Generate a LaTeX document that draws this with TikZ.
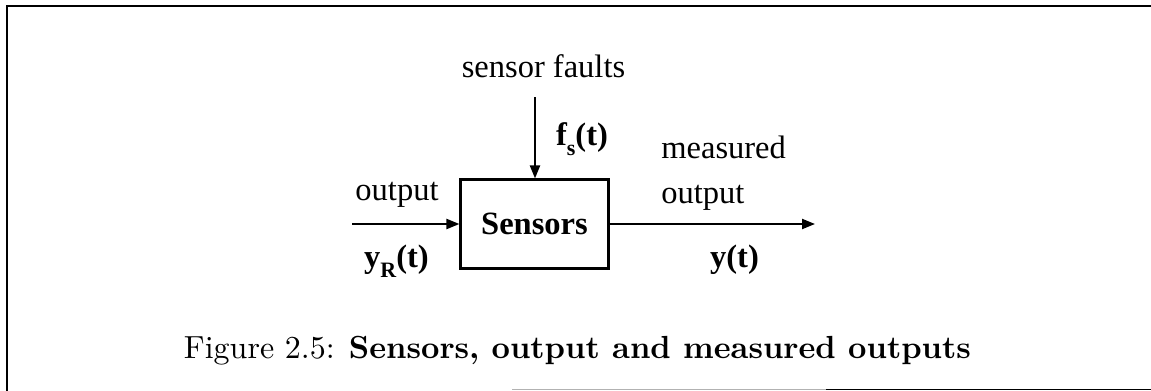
\documentclass[tikz,border=0pt]{standalone}
\usepackage{fontspec}
\newfontfamily\timesrm{Liberation Serif}
\newfontfamily\capfont{lmroman10-regular.otf}[BoldFont=lmroman10-bold.otf]
\usetikzlibrary{positioning,arrows.meta}
\tikzset{
  s5blk/.style={draw=black, line width=1.2pt, minimum width=2.96cm, minimum height=1.78cm,
                inner sep=0pt, font=\timesrm\fontsize{18.5}{22}\selectfont\bfseries},
  s5lab/.style={font=\timesrm\fontsize{18.5}{22}\selectfont, inner sep=0pt},
  s5sig/.style={font=\timesrm\fontsize{18.5}{22}\selectfont\bfseries, inner sep=0pt},
  s5arr/.style={draw=black, line width=1.2pt, -{Triangle[length=2.6mm,width=2mm]}},
  s5frame/.style={line width=1.1pt},
  s5cap/.style={font=\capfont\fontsize{18.2}{21}\selectfont, inner sep=0pt},
}
\newcommand{\lowsub}[1]{\raisebox{-0.7ex}{\fontsize{12.5}{14}\selectfont #1}}

\begin{document}
\begin{tikzpicture}
  \useasboundingbox (0,0) rectangle (23.02,-7.82);
  % frame
  \draw[s5frame] (0.14,-7.82) -- (0.14,-0.12) -- (23.02,-0.12);
  \draw[s5frame, black!30] (10.24,-7.79) -- (16.52,-7.79);
  \draw[s5frame] (16.52,-7.79) -- (23.02,-7.79);

  \node[s5blk] (sens) at (10.69,-4.48) {Sensors};
  \coordinate (yin) at (7.04,-4.48);
  \coordinate (yout) at (16.3,-4.48);
  \coordinate (ftop) at (10.7,-1.94);

  \node[s5lab, anchor=base] (faults) at (10.87,-1.54) {sensor faults};
  \node[s5sig, anchor=base] (fs) at (11.64,-2.9) {f\lowsub{s}(t)};
  \node[s5lab, anchor=base west] (meas) at (13.22,-3.16) {measured};
  \node[s5lab, anchor=base west] (outr) at (13.22,-4.06) {output};
  \node[s5lab, anchor=base] (outl) at (7.94,-4.0) {output};
  \node[s5sig, anchor=base] (yR) at (7.93,-5.34) {y\lowsub{R}(t)};
  \node[s5sig, anchor=base] (yt) at (14.69,-5.34) {y(t)};

  \draw[s5arr] (yin) -- (sens);
  \draw[s5arr] (sens) -- (yout);
  \draw[s5arr] (ftop) -- (ftop |- sens.north);

  \node[s5cap, anchor=base] (cap) at (11.55,-7.16)
    {Figure 2.5: \textbf{Sensors, output and measured outputs}};
\end{tikzpicture}
\end{document}
